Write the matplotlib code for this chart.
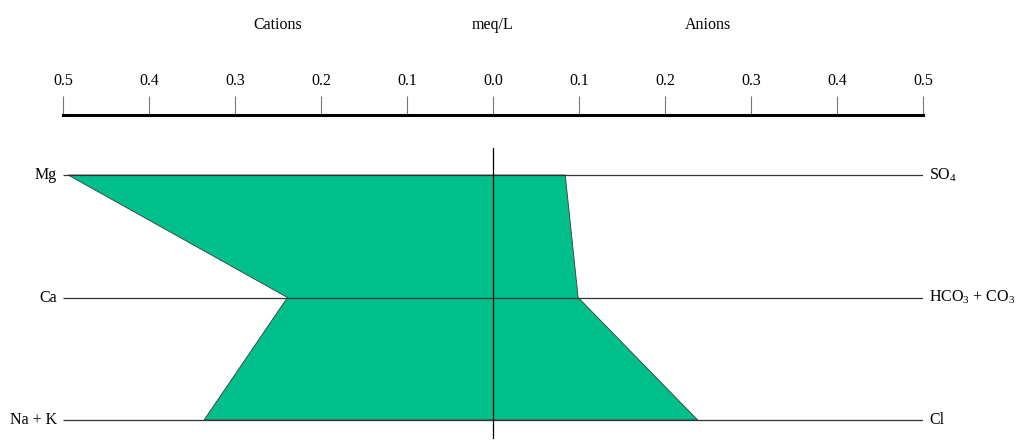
import matplotlib.pyplot as plt
import numpy as np

# 字体设置 (衬线体)
plt.rcParams['font.family'] = ['Liberation Serif', 'DejaVu Serif']
plt.rcParams['mathtext.fontset'] = 'custom'
plt.rcParams['mathtext.rm'] = 'Liberation Serif'
plt.rcParams['mathtext.it'] = 'Liberation Serif:italic'

# ========================== 数据 ==========================
cations = ['Mg', 'Ca', 'Na + K']
anions = ['SO$_4$', 'HCO$_3$ + CO$_3$', 'Cl']
cation_meq = [0.494, 0.239, 0.336]
anion_meq = [0.084, 0.099, 0.238]
tick_values = [0.5, 0.4, 0.3, 0.2, 0.1, 0.0, 0.1, 0.2, 0.3, 0.4, 0.5]

FILL_COLOR = '#00BF8A'
FS = 11.5
W, H = 1019, 440


def main():
    fig = plt.figure(figsize=(W / 100, H / 100), dpi=100)
    # 轴区域: x 从 63px 到 923px, 顶部轴线在 115px
    ax = fig.add_axes([63 / W, 0, 860 / W, (H - 115) / H])

    rows = np.arange(len(cations))
    px_per_row = 122.5
    ax.set_xlim(-0.5, 0.5)
    ax.set_ylim(2 + 20 / px_per_row, -60 / px_per_row)

    # Stiff 多边形
    xs = np.concatenate([-np.array(cation_meq), np.array(anion_meq)[::-1]])
    ys = np.concatenate([rows, rows[::-1]])
    ax.fill(xs, ys, facecolor=FILL_COLOR, edgecolor='#3a3a3a', linewidth=0.6, zorder=2)

    # 水平线 + 中心线
    ax.hlines(rows, -0.5, 0.5, color='#333333', linewidth=0.9, zorder=3)
    ax.axvline(0, ymin=2 / 325, ymax=(325 - 33) / 325, color='black', linewidth=0.9, zorder=4)

    for r, c, a in zip(rows, cations, anions):
        ax.annotate(c, xy=(-0.5, r), xytext=(-4.5, 0), textcoords='offset points',
                    ha='right', va='center', fontsize=FS)
        ax.annotate(a, xy=(0.5, r), xytext=(4.5, 0), textcoords='offset points',
                    ha='left', va='center', fontsize=FS)

    # 顶部刻度轴
    for s in ['left', 'right', 'bottom']:
        ax.spines[s].set_visible(False)
    ax.spines['top'].set_linewidth(2.2)
    ax.set_yticks([])
    ax.xaxis.tick_top()
    ticks = np.linspace(-0.5, 0.5, len(tick_values))
    ax.set_xticks(ticks, [f'{v:.1f}' for v in tick_values])
    ax.tick_params(axis='x', direction='out', length=14, width=0.8, color='#777777',
                   pad=5, labelsize=FS)

    # 上方标题
    trans = ax.get_xaxis_transform()
    ytop = (H - 25) / (H - 115)
    ax.text(-0.25, ytop, 'Cations', transform=trans, ha='center', va='center', fontsize=FS)
    ax.text(0.0, ytop, 'meq/L', transform=trans, ha='center', va='center', fontsize=FS)
    ax.text(0.25, ytop, 'Anions', transform=trans, ha='center', va='center', fontsize=FS)

    fig.savefig('out.png', dpi=100)


if __name__ == '__main__':
    main()
